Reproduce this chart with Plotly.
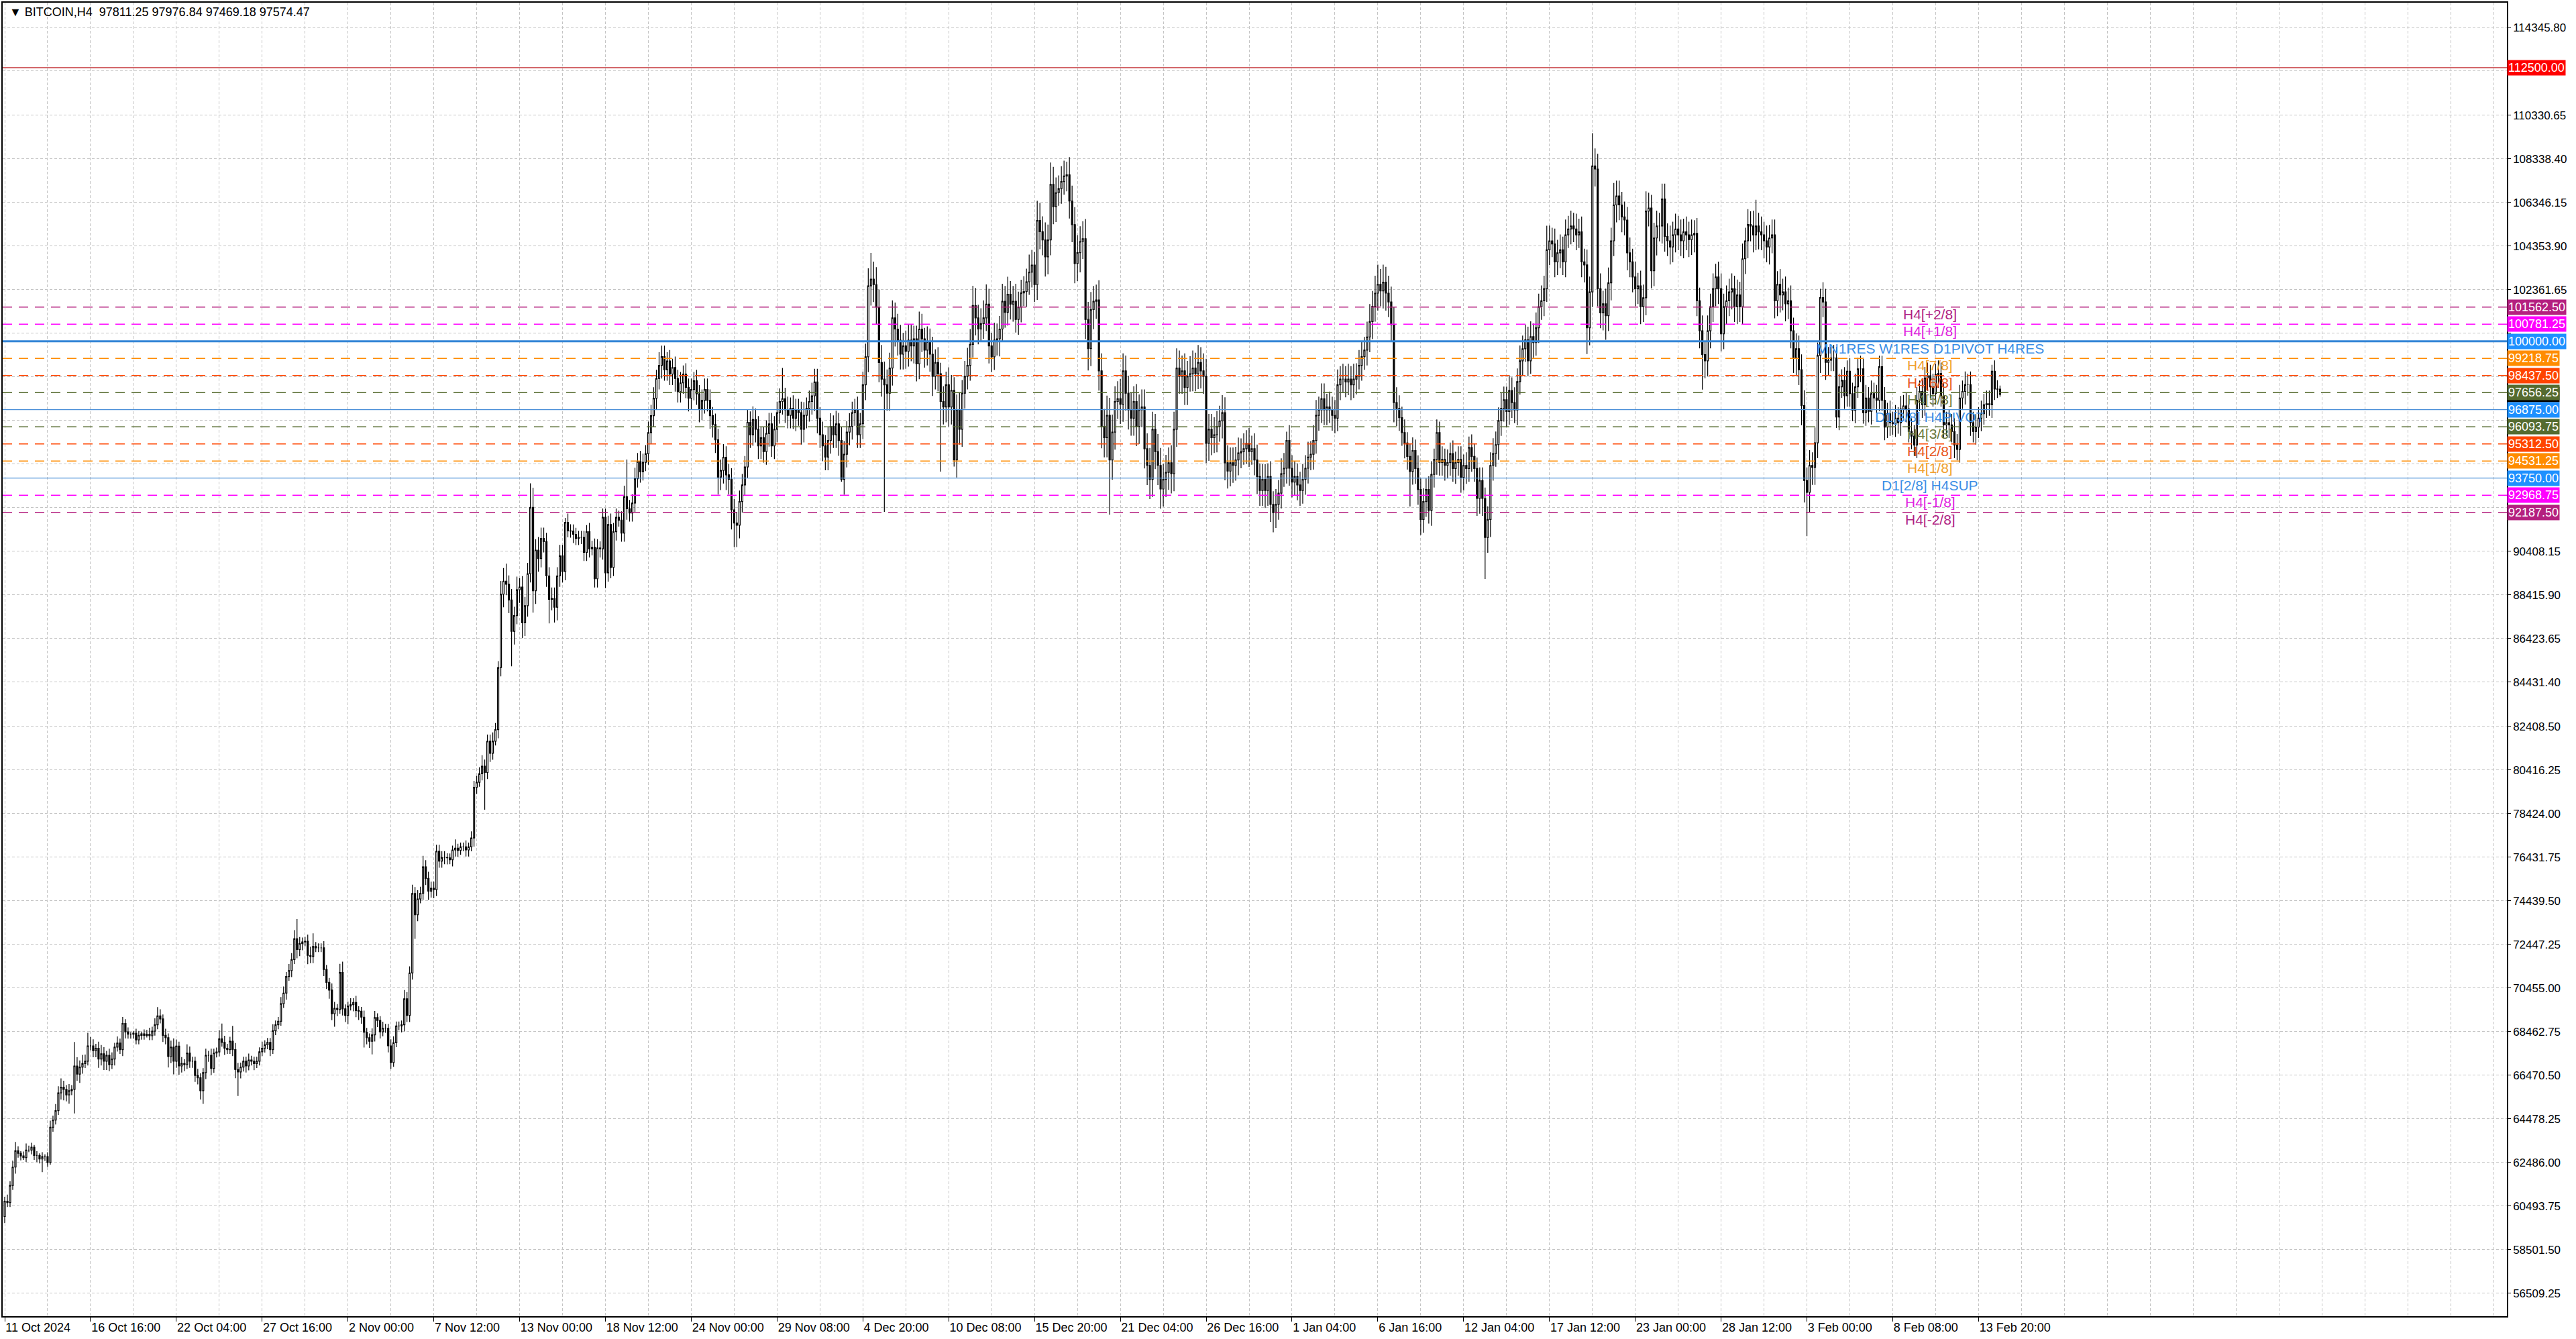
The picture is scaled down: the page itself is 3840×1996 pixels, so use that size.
"""
graphique BITCOIN H4 avec les niveaux horizontaux (style MT4)
"""
from plotly.graph_objects import Candlestick, Figure

# dates sous l'axe du temps (une toutes les 32 bougies)
x_labels = ["11 Oct 2024", "16 Oct 16:00", "22 Oct 04:00", "27 Oct 16:00", "2 Nov 00:00",
            "7 Nov 12:00", "13 Nov 00:00", "18 Nov 12:00", "24 Nov 00:00", "29 Nov 08:00",
            "4 Dec 20:00", "10 Dec 08:00", "15 Dec 20:00", "21 Dec 04:00", "26 Dec 16:00",
            "1 Jan 04:00", "6 Jan 16:00", "12 Jan 04:00", "17 Jan 12:00", "23 Jan 00:00",
            "28 Jan 12:00", "3 Feb 00:00", "8 Feb 08:00", "13 Feb 20:00"]

# graduations de l'axe des prix
y_ticks = [56509.25, 58501.50, 60493.75, 62486.00, 64478.25, 66470.50, 68462.75, 70455.00,
           72447.25, 74439.50, 76431.75, 78424.00, 80416.25, 82408.50, 84431.40, 86423.65,
           88415.90, 90408.15, 92400.40, 94392.65, 96384.90, 98377.15, 100369.40, 102361.65,
           104353.90, 106346.15, 108338.40, 110330.65, 112353.55, 114345.80]
# graduations cachées sous les étiquettes colorées
y_hidden = [92400.40, 94392.65, 96384.90, 98377.15, 100369.40, 112353.55]

# niveaux horizontaux
level_prices = [101562.50, 100781.25, 100000.00, 99218.75, 98437.50, 97656.25, 96875.00,
                96093.75, 95312.50, 94531.25, 93750.00, 92968.75, 92187.50]
level_names = ["H4[+2/8]", "H4[+1/8]", "MN1RES W1RES D1PIVOT H4RES", "H4[7/8]", "H4[6/8]",
               "H4[5/8]", "D1[3/8] H4PIVOT", "H4[3/8]", "H4[2/8]", "H4[1/8]",
               "D1[2/8] H4SUP", "H4[-1/8]", "H4[-2/8]"]
red_level = 112500.00
bid_price = 97574.47
last_ohlc = "97811.25 97976.84 97469.18 97574.47"

# bougies H4 : ouverture de la première, puis clôtures
first_open = 60010
closes = [
    60710, 60650, 61430, 62270, 63020, 62900, 62780, 62700, 63050, 63050, 63180, 62800, 62800, 62640, 62750, 62750, 62480, 64090, 64420, 64850,
    65660, 65920, 65820, 65570, 65760, 65820, 66890, 66520, 66840, 67000, 67110, 67810, 67810, 67590, 67700, 67210, 67450, 67110, 67380, 66950,
    67210, 67750, 67940, 67640, 68830, 68450, 68340, 68340, 68390, 68080, 68290, 68360, 68290, 68340, 68270, 68480, 68770, 69180, 69040, 68290,
    68180, 67320, 67750, 67110, 67800, 66890, 67000, 66950, 67480, 67110, 67110, 66460, 66350, 65760, 66590, 67380, 67380, 66780, 67480, 67530,
    68130, 67970, 67700, 67640, 68020, 67640, 66730, 66620, 66840, 67110, 66890, 67160, 67110, 67000, 67110, 67540, 67700, 67860, 67970, 67640,
    68500, 68770, 68930, 69740, 70220, 70980, 71250, 71750, 72700, 72210, 72480, 72560, 72590, 71940, 71890, 72350, 72290, 72290, 72290, 71300,
    70710, 70360, 69280, 69520, 69470, 71160, 69500, 69200, 69630, 69690, 69790, 69420, 69390, 69120, 68430, 68180, 68020, 68310, 69100, 68970,
    68450, 68610, 68610, 67810, 67050, 67950, 68720, 68720, 68770, 69960, 69200, 71140, 74770, 73800, 74520, 74780, 75990, 75460, 74880, 75010,
    74950, 76700, 76250, 76410, 76410, 76400, 76310, 76760, 76840, 76740, 76900, 76900, 76760, 76900, 77310, 79620, 79850, 80240, 80590, 80300,
    81730, 81180, 81730, 82260, 85090, 88450, 89040, 88900, 88180, 86750, 87470, 88650, 88770, 87140, 87920, 89380, 92410, 88600, 90460, 90070,
    90990, 90850, 89280, 88210, 88250, 87850, 89280, 90200, 89480, 91730, 91340, 91330, 91180, 90990, 91040, 91040, 90360, 91300, 90520, 90590,
    89150, 90560, 90520, 91960, 89420, 91630, 89670, 91300, 91960, 91830, 91240, 92900, 92350, 92160, 92610, 93720, 94500, 94040, 94470, 94860,
    95830, 96600, 97400, 98300, 98900, 99300, 98700, 99100, 98500, 98800, 98300, 97700, 98100, 98500, 97900, 97400, 97800, 98200, 97600, 96900,
    97300, 97800, 97300, 96600, 96200, 95500, 93800, 94100, 94700, 93900, 93700, 92300, 91700, 91600, 92680, 93440, 94260, 96300, 95730, 96430,
    95980, 95220, 95600, 94960, 95790, 96230, 95220, 95980, 96740, 97250, 97380, 96870, 96620, 96930, 96490, 96870, 96740, 95980, 96620, 96930,
    97250, 97510, 98140, 96490, 95730, 95220, 94710, 95470, 96110, 95730, 96230, 95470, 93690, 94840, 95850, 96110, 96740, 96870, 95730, 96230,
    98010, 99290, 102530, 102840, 102590, 101570, 99030, 98270, 98010, 97630, 98780, 101070, 100560, 100050, 99410, 99790, 99540, 100050, 99790, 100110,
    98970, 100560, 100110, 99600, 99980, 99410, 98400, 99030, 98520, 97250, 97000, 98010, 97000, 97760, 94580, 96870, 95980, 97630, 98400, 98900,
    99860, 101640, 101070, 100560, 100810, 101070, 101700, 99790, 99290, 100050, 100110, 100560, 101830, 101320, 102150, 101700, 101830, 101000, 101570, 102210,
    102270, 102720, 103160, 103480, 102590, 105520, 105010, 104630, 103860, 104630, 107170, 106150, 106790, 106980, 107300, 107550, 107610, 106410, 105330, 103550,
    104050, 104560, 104690, 101000, 99670, 101450, 101830, 101890, 98650, 96110, 95600, 96620, 94580, 95850, 97250, 97380, 97120, 98650, 97630, 96870,
    96490, 97250, 96110, 96870, 97000, 95090, 94330, 93690, 95980, 94960, 94330, 93250, 93690, 94010, 94450, 93950, 95980, 98780, 98400, 98650,
    97890, 98400, 98520, 98780, 98520, 99030, 98650, 98400, 95340, 95980, 95600, 95730, 96110, 96360, 96740, 94450, 94070, 94450, 94330, 94580,
    94900, 94960, 95090, 95340, 94960, 95090, 94580, 93820, 93180, 93690, 93180, 93820, 92550, 92170, 92550, 93060, 93950, 94200, 95470, 94200,
    93570, 93820, 93440, 93180, 93690, 94200, 94710, 94840, 95470, 96620, 96870, 97380, 96870, 97000, 96870, 96620, 96490, 98010, 98270, 98270,
    98140, 98270, 98010, 98270, 98400, 98900, 99300, 99600, 100200, 100900, 101600, 102200, 102600, 102300, 102700, 102200, 101800, 100760, 97200, 96930,
    96510, 95830, 95350, 94740, 94050, 95010, 94190, 93230, 91860, 92680, 93230, 92270, 93920, 94600, 95830, 94460, 94600, 94330, 94460, 94870,
    94190, 94460, 94600, 93780, 94330, 94190, 95150, 94740, 94190, 92820, 93640, 92820, 91040, 91860, 94330, 94870, 95280, 96380, 96930, 97330,
    96790, 97750, 97200, 96860, 98160, 99110, 99660, 100070, 99110, 100210, 99940, 100620, 101580, 101850, 102400, 104180, 104590, 104450, 103630, 104040,
    104180, 103630, 104860, 105130, 105270, 105130, 104860, 105000, 103630, 103490, 100620, 102260, 108010, 107870, 102400, 101300, 101710, 101170, 102670, 104590,
    106230, 106640, 106230, 105680, 105540, 104040, 103630, 102940, 102400, 102530, 101580, 101990, 105950, 106090, 103220, 104720, 105270, 105270, 106500, 104790,
    104590, 104310, 104860, 105130, 104860, 104590, 105000, 104860, 104650, 104860, 104930, 101850, 100480, 99390, 99110, 100480, 101580, 102400, 102940, 102400,
    100340, 101580, 101850, 102260, 102400, 101580, 102120, 101580, 103770, 104590, 105340, 105270, 104860, 105270, 105000, 104860, 104590, 104310, 104720, 104860,
    101850, 102600, 102120, 102260, 101710, 101850, 100480, 99250, 99660, 98700, 97060, 93640, 93100, 94330, 94240, 95360, 99350, 102000, 101800, 99040,
    99140, 99240, 99240, 96540, 97920, 98220, 97510, 98630, 97610, 96850, 97920, 98740, 98740, 96740, 97410, 96800, 97610, 97410, 97310, 98840,
    97310, 96080, 96690, 96280, 96230, 96490, 96280, 96900, 97050, 96900, 95880, 95670, 95260, 97310, 97710, 97100, 98330, 98430, 97920, 97610,
    98480, 98530, 97510, 96180, 96280, 96180, 95880, 95260, 95060, 97410, 97710, 98020, 98020, 96280, 95880, 96080, 96490, 96690, 97100, 97150,
    97100, 98630, 97820, 97811.25, 97574.47,
]

# mèches au-dessus / au-dessous du corps, en centaines de points
wick_hi = [
    2, 3, 2, 3, 4, 2, 1, 2, 3, 2, 2, 1, 2, 1, 2, 1, 2, 3, 2, 3,
    3, 4, 3, 2, 3, 2, 11, 4, 3, 4, 3, 6, 4, 3, 2, 3, 4, 3, 2, 3,
    3, 2, 3, 2, 3, 2, 2, 1, 1, 2, 2, 1, 2, 2, 3, 2, 3, 4, 3, 2,
    3, 2, 3, 4, 3, 2, 3, 2, 4, 3, 2, 2, 3, 2, 2, 3, 2, 3, 2, 2,
    4, 7, 3, 2, 2, 7, 3, 3, 2, 2, 2, 3, 2, 2, 2, 2, 3, 2, 2, 2,
    3, 2, 2, 3, 3, 2, 3, 3, 4, 9, 3, 2, 2, 3, 4, 6, 2, 2, 2, 3,
    2, 2, 3, 3, 2, 4, 5, 2, 2, 3, 2, 3, 2, 2, 3, 2, 2, 3, 3, 2,
    2, 3, 2, 2, 3, 3, 2, 2, 2, 4, 3, 3, 4, 3, 4, 3, 5, 3, 3, 3,
    3, 3, 3, 3, 3, 2, 2, 2, 4, 2, 2, 2, 3, 2, 3, 3, 3, 3, 5, 3,
    3, 3, 4, 3, 3, 6, 6, 8, 4, 5, 4, 6, 4, 5, 4, 5, 11, 9, 5, 6,
    5, 5, 4, 4, 5, 5, 4, 5, 5, 2, 4, 3, 3, 3, 3, 3, 3, 3, 4, 3,
    4, 4, 3, 4, 4, 4, 5, 4, 4, 3, 4, 5, 17, 4, 4, 5, 4, 5, 4, 4,
    5, 5, 5, 4, 6, 5, 5, 4, 5, 4, 5, 4, 5, 4, 5, 4, 5, 4, 5, 4,
    5, 5, 5, 5, 4, 5, 5, 5, 6, 5, 5, 5, 5, 5, 5, 5, 5, 6, 5, 6,
    5, 6, 5, 5, 6, 5, 5, 6, 5, 6, 14, 5, 6, 5, 6, 5, 5, 5, 6, 5,
    5, 6, 6, 6, 5, 6, 5, 6, 6, 5, 6, 5, 6, 6, 5, 6, 5, 5, 6, 5,
    6, 6, 8, 12, 8, 8, 8, 8, 8, 7, 7, 8, 7, 7, 7, 6, 7, 7, 7, 6,
    6, 8, 7, 5, 7, 6, 8, 6, 7, 5, 7, 6, 8, 7, 6, 7, 8, 6, 7, 8,
    7, 9, 8, 6, 7, 8, 9, 7, 6, 8, 7, 6, 8, 7, 8, 6, 7, 8, 7, 6,
    7, 6, 8, 7, 6, 9, 8, 7, 8, 7, 10, 8, 7, 6, 7, 7, 6, 8, 7, 8,
    8, 7, 8, 9, 8, 8, 7, 7, 9, 8, 8, 9, 8, 8, 7, 8, 9, 8, 7, 8,
    8, 7, 8, 7, 8, 8, 7, 8, 8, 7, 8, 8, 7, 8, 7, 8, 8, 9, 8, 7,
    8, 7, 8, 8, 7, 8, 7, 8, 8, 7, 7, 8, 7, 7, 8, 7, 8, 7, 7, 6,
    7, 6, 7, 6, 7, 6, 7, 7, 6, 7, 7, 6, 7, 6, 7, 6, 7, 7, 4, 7,
    6, 7, 6, 6, 7, 6, 7, 6, 7, 7, 6, 7, 7, 6, 7, 6, 7, 7, 6, 7,
    6, 7, 6, 7, 6, 7, 7, 6, 7, 8, 7, 8, 9, 7, 8, 7, 8, 7, 8, 7,
    6, 5, 6, 5, 6, 6, 5, 6, 5, 6, 5, 6, 6, 5, 6, 5, 6, 5, 6, 5,
    6, 5, 6, 6, 5, 6, 5, 6, 6, 5, 6, 6, 5, 6, 6, 7, 6, 6, 7, 6,
    6, 7, 6, 7, 6, 7, 6, 7, 6, 7, 6, 7, 6, 7, 6, 11, 7, 6, 7, 6,
    7, 6, 7, 6, 7, 6, 7, 6, 7, 6, 7, 7, 15, 8, 7, 7, 6, 7, 7, 6,
    10, 7, 7, 6, 7, 6, 7, 6, 7, 6, 7, 6, 9, 7, 6, 7, 7, 6, 7, 7,
    6, 7, 6, 7, 6, 7, 6, 7, 6, 7, 6, 7, 6, 7, 6, 7, 6, 7, 6, 7,
    7, 6, 7, 6, 7, 6, 7, 6, 7, 6, 7, 6, 7, 12, 6, 7, 6, 7, 6, 7,
    7, 6, 7, 6, 7, 6, 7, 6, 7, 6, 7, 7, 6, 7, 6, 7, 6, 4, 7, 6,
    6, 5, 6, 5, 6, 5, 6, 5, 6, 5, 6, 5, 6, 5, 6, 5, 6, 5, 6, 5,
    5, 6, 5, 6, 5, 6, 5, 6, 5, 6, 5, 6, 5, 6, 5, 6, 5, 6, 5, 6,
    5, 6, 5, 6, 5, 6, 5, 6, 5, 6, 5, 6, 5, 6, 5, 6, 5, 6, 5, 6,
    6, 3, 5, 4, 1.66,
]
wick_lo = [
    3, 2, 2, 2, 3, 2, 2, 1, 2, 1, 2, 2, 3, 2, 6, 2, 2, 1, 2, 2,
    2, 3, 5, 3, 4, 2, 11, 3, 4, 3, 2, 2, 2, 3, 3, 4, 3, 4, 4, 3,
    2, 3, 2, 2, 3, 3, 2, 2, 2, 2, 2, 2, 2, 1, 2, 2, 2, 2, 2, 3,
    3, 5, 3, 6, 3, 4, 3, 3, 2, 3, 3, 3, 3, 4, 6, 3, 3, 3, 2, 2,
    2, 2, 3, 2, 2, 3, 4, 11, 3, 2, 3, 2, 2, 3, 2, 2, 2, 2, 2, 3,
    2, 2, 2, 2, 2, 3, 2, 3, 2, 4, 3, 3, 2, 4, 3, 3, 2, 2, 2, 3,
    3, 4, 3, 6, 3, 2, 3, 3, 4, 2, 3, 3, 4, 3, 7, 3, 3, 6, 3, 3,
    3, 2, 2, 3, 3, 2, 2, 2, 3, 3, 3, 3, 3, 11, 3, 2, 3, 3, 4, 3,
    4, 3, 3, 3, 3, 3, 2, 3, 3, 3, 2, 2, 3, 3, 2, 4, 3, 2, 3, 17,
    3, 4, 3, 2, 4, 4, 6, 5, 6, 16, 6, 4, 6, 7, 6, 5, 4, 10, 6, 6,
    4, 5, 5, 11, 5, 7, 6, 5, 5, 4, 3, 3, 4, 3, 3, 3, 4, 4, 4, 3,
    4, 4, 4, 5, 7, 4, 5, 4, 4, 3, 4, 4, 5, 4, 4, 4, 4, 5, 4, 4,
    5, 5, 5, 5, 5, 6, 5, 5, 5, 5, 6, 5, 5, 5, 5, 6, 5, 5, 5, 6,
    5, 6, 5, 6, 6, 6, 8, 6, 6, 7, 7, 9, 11, 10, 6, 5, 5, 5, 6, 5,
    6, 6, 6, 5, 6, 6, 5, 6, 6, 5, 6, 6, 6, 6, 5, 6, 6, 7, 6, 6,
    6, 6, 7, 7, 6, 7, 6, 6, 6, 6, 6, 7, 1, 7, 6, 6, 6, 6, 6, 6,
    7, 7, 7, 9, 8, 8, 9, 8, 58, 8, 8, 8, 8, 7, 7, 7, 8, 7, 7, 8,
    8, 7, 6, 8, 7, 8, 9, 6, 8, 32, 8, 7, 9, 8, 3, 8, 7, 8, 7, 6,
    7, 6, 8, 7, 6, 7, 6, 8, 7, 6, 7, 8, 6, 7, 6, 7, 8, 6, 7, 7,
    6, 7, 6, 7, 8, 7, 8, 7, 9, 8, 7, 8, 7, 6, 7, 6, 7, 8, 8, 9,
    8, 9, 8, 9, 10, 8, 9, 8, 9, 10, 9, 9, 25, 9, 8, 8, 9, 8, 8, 9,
    8, 8, 9, 8, 8, 9, 9, 9, 8, 8, 9, 9, 8, 8, 8, 9, 8, 8, 8, 8,
    8, 8, 7, 8, 8, 7, 8, 8, 9, 8, 8, 7, 8, 7, 8, 8, 8, 7, 8, 7,
    7, 7, 6, 7, 7, 6, 7, 8, 7, 7, 8, 7, 8, 9, 7, 7, 7, 6, 7, 8,
    7, 6, 7, 7, 6, 7, 7, 6, 7, 6, 7, 6, 7, 7, 6, 7, 7, 6, 7, 6,
    7, 6, 7, 6, 7, 6, 7, 6, 7, 7, 8, 7, 8, 7, 8, 8, 7, 8, 9, 8,
    6, 6, 7, 6, 16, 6, 7, 7, 7, 6, 7, 6, 7, 6, 7, 6, 6, 7, 6, 6,
    6, 7, 6, 7, 6, 7, 6, 7, 6, 8, 7, 8, 19, 7, 8, 7, 6, 7, 7, 6,
    7, 6, 7, 6, 7, 6, 7, 6, 7, 6, 7, 6, 7, 6, 7, 6, 7, 6, 7, 6,
    7, 6, 7, 6, 7, 6, 7, 6, 7, 8, 12, 8, 7, 8, 8, 7, 8, 11, 7, 8,
    7, 8, 7, 7, 7, 8, 7, 7, 8, 7, 8, 7, 8, 7, 8, 7, 8, 7, 8, 7,
    7, 8, 7, 8, 7, 7, 8, 7, 8, 7, 8, 7, 8, 16, 8, 7, 8, 7, 8, 7,
    8, 7, 8, 7, 8, 7, 8, 7, 8, 7, 8, 7, 8, 7, 8, 7, 8, 7, 8, 7,
    8, 7, 8, 7, 8, 7, 8, 7, 8, 7, 9, 10, 20, 9, 8, 8, 7, 8, 7, 8,
    6, 5, 6, 5, 6, 5, 6, 5, 6, 5, 6, 5, 6, 5, 6, 5, 6, 5, 6, 5,
    5, 6, 5, 6, 5, 6, 5, 6, 5, 6, 5, 6, 5, 6, 5, 6, 5, 6, 5, 6,
    5, 6, 5, 6, 5, 6, 5, 6, 5, 6, 5, 6, 5, 6, 5, 6, 5, 6, 5, 6,
    5, 6, 5, 4, 1.05,
]

### styles des niveaux (couleur, tirets, épaisseur)
PURPLE = "#B4207F"
MAGENTA = "#FF00FF"
BLUE = "#1E90FF"
ORANGE = "#FF8C00"
ORANGERED = "#FF4500"
OLIVE = "#556B2F"
level_style = [
    (PURPLE, "14px,10px", 1.5), (MAGENTA, "14px,10px", 1.5), ("#3385D6", "solid", 3),
    (ORANGE, "14px,10px", 1.5), (ORANGERED, "14px,10px", 1.5), (OLIVE, "14px,10px", 1.5),
    ("#4A8FD8", "solid", 1.3), (OLIVE, "14px,10px", 1.5), (ORANGERED, "14px,10px", 1.5),
    (ORANGE, "14px,10px", 1.5), ("#4A8FD8", "solid", 1.3), (MAGENTA, "14px,10px", 1.5),
    (PURPLE, "14px,10px", 1.5),
]
text_color = ["#B01E84", "#E020E0", "#3A8EE6", "#F0A030", "#E8541A", "#6B7A40",
              "#3A8EE6", "#6B7A40", "#E8541A", "#F0A030", "#3A8EE6", "#E020E0", "#B01E84"]
GRID = "#C4C4C4"
FONT = "Liberation Sans, Arial, sans-serif"


def build_candles():
    """ouvertures = clôture précédente, plus hauts / plus bas avec les mèches"""
    opens = [first_open] + closes[:-1]
    highs = [max(o, c) + h * 100 for o, c, h in zip(opens, closes, wick_hi)]
    lows = [min(o, c) - l * 100 for o, c, l in zip(opens, closes, wick_lo)]
    return opens, highs, lows


def main():
    opens, highs, lows = build_candles()
    n = len(closes)

    fig = Figure()
    fig.add_trace(Candlestick(
        x=list(range(n)), open=opens, high=highs, low=lows, close=closes,
        increasing=dict(line=dict(color="black", width=1.2), fillcolor="white"),
        decreasing=dict(line=dict(color="black", width=1.2), fillcolor="black"),
        whiskerwidth=0, hoverinfo="skip", showlegend=False,
    ))

    major = [32 * i for i in range(len(x_labels))]
    minor = [16 * k for k in range(1, 59) if 16 * k not in major]

    fig.update_layout(
        width=3840, height=1996,
        margin=dict(l=2, r=103, t=4, b=34),
        paper_bgcolor="white", plot_bgcolor="white", showlegend=False,
        font=dict(family=FONT, size=18, color="black"),
    )
    fig.update_xaxes(
        range=[-0.75, 933], tickvals=major, ticktext=x_labels,
        ticks="outside", ticklen=6, tickcolor="black", ticklabelposition="outside right",
        tickfont=dict(size=18, color="black"),
        showline=True, linecolor="black", linewidth=1.5, mirror=True,
        showgrid=True, gridcolor=GRID, gridwidth=1, griddash="4px,3px",
        minor=dict(tickvals=minor, showgrid=True, gridcolor=GRID, gridwidth=1,
                   griddash="4px,3px", ticks=""),
        zeroline=False, rangeslider=dict(visible=False),
    )
    fig.update_yaxes(
        side="right", range=[55458, 115471],
        tickvals=y_ticks,
        ticktext=["" if v in y_hidden else f"{v:.2f}" for v in y_ticks],
        ticks="outside", ticklen=4, tickcolor="black",
        tickfont=dict(size=17, color="black"),
        showline=True, linecolor="black", linewidth=1.5, mirror=True,
        showgrid=True, gridcolor=GRID, gridwidth=1, griddash="4px,3px",
        zeroline=False,
    )

    # ligne rouge 112500
    fig.add_shape(type="line", xref="x domain", x0=0, x1=1, yref="y", y0=red_level, y1=red_level,
                  line=dict(color="#C0282D", width=1.3))

    # niveaux
    for price, (color, dash, width) in zip(level_prices, level_style):
        fig.add_shape(type="line", xref="x domain", x0=0, x1=1, yref="y", y0=price, y1=price,
                      line=dict(color=color, width=width, dash=dash))

    # noms des niveaux au milieu du graphique
    for price, name, tcol in zip(level_prices, level_names, text_color):
        fig.add_annotation(x=718, xref="x", y=price, yref="y", text=name, showarrow=False,
                           xanchor="center", yanchor="top", yshift=3,
                           font=dict(family=FONT, size=21, color=tcol))

    # étiquettes de prix sur l'axe de droite
    fig.add_annotation(x=1, xref="paper", y=bid_price, yref="y", text=f"{bid_price:.2f}",
                       showarrow=False, xanchor="left", yanchor="middle", xshift=0,
                       bgcolor="black", borderpad=1, font=dict(family=FONT, size=18, color="white"))
    fig.add_annotation(x=1, xref="paper", y=red_level, yref="y", text=f"{red_level:.2f}",
                       showarrow=False, xanchor="left", yanchor="middle", xshift=0,
                       bgcolor="#FF0000", borderpad=1, font=dict(family=FONT, size=18, color="white"))
    for price, (color, dash, width) in zip(level_prices, level_style):
        bg = BLUE if dash == "solid" else color
        fig.add_annotation(x=1, xref="paper", y=price, yref="y", text=f"{price:.2f}",
                           showarrow=False, xanchor="left", yanchor="middle", xshift=0,
                           bgcolor=bg, borderpad=1, font=dict(family=FONT, size=18, color="white"))

    # titre en haut à gauche
    fig.add_annotation(x=0, xref="paper", y=1, yref="paper", xanchor="left", yanchor="top",
                       xshift=8, yshift=-2, showarrow=False,
                       text="▼ BITCOIN,H4  " + last_ohlc,
                       font=dict(family=FONT, size=18, color="black"))

    # page sans marge pour que le graphique commence au coin, sans barre d'outils
    fig.write_html("out.html", config={"displayModeBar": False},
                   post_script="document.body.style.margin='0';")


if __name__ == "__main__":
    main()
